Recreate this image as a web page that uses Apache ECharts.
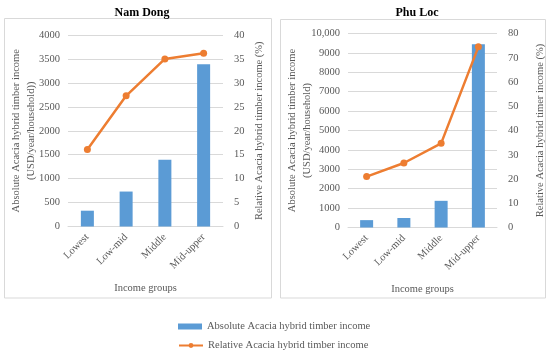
<!DOCTYPE html>
<html><head><meta charset="utf-8">
<script src="https://cdn.jsdelivr.net/npm/echarts@6/dist/echarts.min.js"></script>
<style>html,body{margin:0;padding:0;background:#fff}#c{width:550px;height:356px}</style>
</head><body><div id="c"></div>
<script>
const categories = ['Lowest', 'Low-mid', 'Middle', 'Mid-upper'];
const namDongAbsolute = [330, 730, 1395, 3390];
const namDongRelative = [16.1, 27.3, 35.0, 36.2];
const phuLocAbsolute = [380, 490, 1375, 9440];
const phuLocRelative = [21.0, 26.6, 34.7, 74.5];
const panelTitles = ['Nam Dong', 'Phu Loc'];
const seriesNames = ['Absolute Acacia hybrid timber income', 'Relative Acacia hybrid timber income'];

const FONT = '"Liberation Serif", serif';
const GRAY = '#595959';
const BLUE = '#5B9BD5';
const ORANGE = '#ED7D31';
const GRID = '#D9D9D9';

const chart = echarts.init(document.getElementById('c'), null, {renderer: 'canvas'});

function valAxis(gridIndex, max, interval, name, gap, fmt, pos) {
  const ax = {
    type: 'value', gridIndex, min: 0, max, interval, position: pos,
    name, nameLocation: 'middle', nameGap: gap, nameRotate: 90,
    nameTextStyle: {fontFamily: FONT, fontSize: 10.5, color: GRAY, lineHeight: 15},
    axisLine: {show: false}, axisTick: {show: false},
    axisLabel: {fontFamily: FONT, fontSize: 10.5, color: GRAY, margin: pos === 'left' ? 8 : 11, formatter: fmt},
    splitLine: {show: pos === 'left', lineStyle: {color: GRID, width: 1}}
  };
  if (pos === 'left') ax.nameMoveOverlap = false;
  return ax;
}
function catAxis(gridIndex) {
  return {
    type: 'category', gridIndex, data: categories,
    name: 'Income groups', nameLocation: 'middle', nameGap: 56,
    nameTextStyle: {fontFamily: FONT, fontSize: 10.5, color: GRAY},
    axisLine: {lineStyle: {color: GRID}}, axisTick: {show: false},
    axisLabel: {fontFamily: FONT, fontSize: 10.5, color: GRAY, rotate: 45, margin: 9, interval: 0}
  };
}
const plain = v => String(v);
const withComma = v => v >= 10000 ? '10,000' : String(v);
const legendText = {fontFamily: FONT, fontSize: 10.5, color: GRAY};

const option = {
  animation: false,
  textStyle: {fontFamily: FONT},
  title: [
    {text: panelTitles[0], left: 137, top: 2, textAlign: 'center', textStyle: {fontFamily: FONT, fontSize: 12, fontWeight: 'bold', color: '#000'}},
    {text: panelTitles[1], left: 412, top: 2, textAlign: 'center', textStyle: {fontFamily: FONT, fontSize: 12, fontWeight: 'bold', color: '#000'}}
  ],
  graphic: [
    {type: 'rect', shape: {x: 4.5, y: 18.5, width: 267, height: 279.5}, style: {fill: 'none', stroke: GRID, lineWidth: 1}},
    {type: 'rect', shape: {x: 280.5, y: 19.5, width: 265, height: 278.5}, style: {fill: 'none', stroke: GRID, lineWidth: 1}}
  ],
  legend: [
    {left: 178, top: 321, padding: 0, itemWidth: 24, itemHeight: 6, itemGap: 0,
     textStyle: legendText, data: [{name: seriesNames[0], icon: 'rect'}]},
    {left: 178, top: 340, padding: 0, itemWidth: 24, itemHeight: 6, itemGap: 0,
     textStyle: legendText, data: [{name: seriesNames[1]}]}
  ],
  grid: [
    {left: 68, right: 327, top: 35, bottom: 129.5},
    {left: 348, right: 53, top: 33.5, bottom: 128.5}
  ],
  xAxis: [catAxis(0), catAxis(1)],
  yAxis: [
    valAxis(0, 4000, 500, 'Absolute Acacia hybrid timber income\n(USD/year/household))', 29, plain, 'left'),
    valAxis(0, 40, 5, 'Relative Acacia hybrid timber income (%)', 29, plain, 'right'),
    valAxis(1, 10000, 1000, 'Absolute Acacia hybrid timber income\n(USD/year/household)', 33, withComma, 'left'),
    valAxis(1, 80, 10, 'Relative Acacia hybrid timer income (%)', 36, plain, 'right')
  ],
  series: [
    {name: seriesNames[0], type: 'bar', xAxisIndex: 0, yAxisIndex: 0, data: namDongAbsolute, barWidth: 13, itemStyle: {color: BLUE}},
    {name: seriesNames[1], type: 'line', xAxisIndex: 0, yAxisIndex: 1, data: namDongRelative, symbol: 'circle', symbolSize: 7, lineStyle: {color: ORANGE, width: 2.5}, itemStyle: {color: ORANGE}},
    {name: seriesNames[0], type: 'bar', xAxisIndex: 1, yAxisIndex: 2, data: phuLocAbsolute, barWidth: 13, itemStyle: {color: BLUE}},
    {name: seriesNames[1], type: 'line', xAxisIndex: 1, yAxisIndex: 3, data: phuLocRelative, symbol: 'circle', symbolSize: 7, lineStyle: {color: ORANGE, width: 2.5}, itemStyle: {color: ORANGE}}
  ]
};
chart.setOption(option);
</script>
</body></html>
